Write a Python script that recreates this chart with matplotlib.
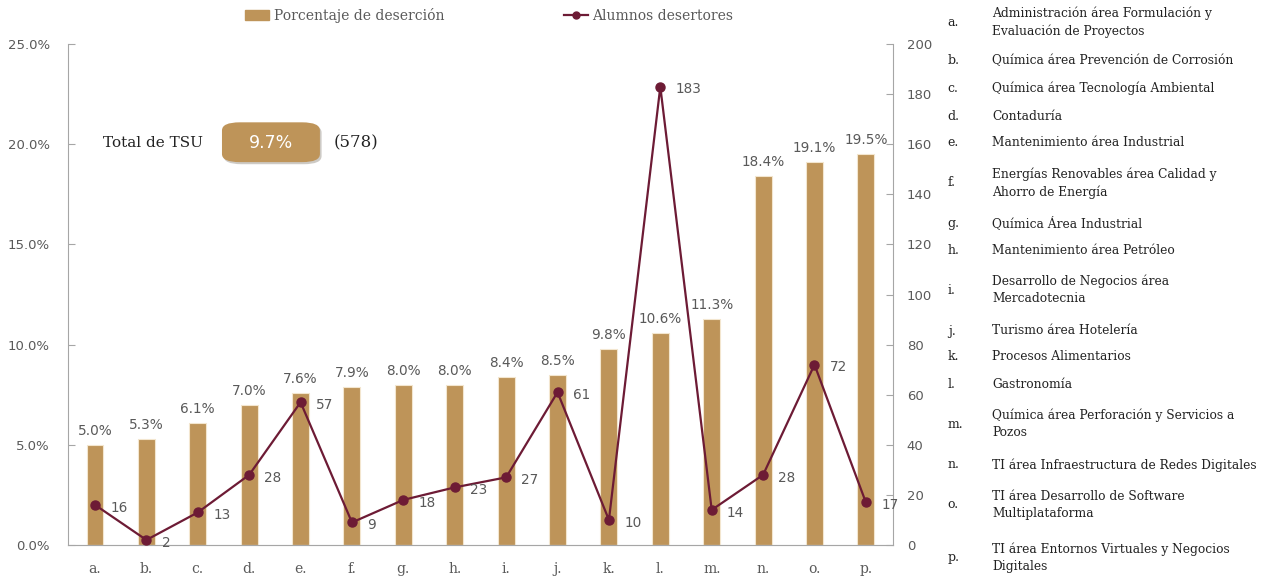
import matplotlib.pyplot as plt
from matplotlib.patches import FancyBboxPatch
from matplotlib.lines import Line2D
from matplotlib.patches import Patch
import matplotlib.patheffects as pe

# data
letras = ['a.', 'b.', 'c.', 'd.', 'e.', 'f.', 'g.', 'h.', 'i.', 'j.', 'k.', 'l.', 'm.', 'n.', 'o.', 'p.']
porcentaje = [5.0, 5.3, 6.1, 7.0, 7.6, 7.9, 8.0, 8.0, 8.4, 8.5, 9.8, 10.6, 11.3, 18.4, 19.1, 19.5]
alumnos = [16, 2, 13, 28, 57, 9, 18, 23, 27, 61, 10, 183, 14, 28, 72, 17]
carreras = [
    'Administración área Formulación y\nEvaluación de Proyectos',
    'Química área Prevención de Corrosión',
    'Química área Tecnología Ambiental',
    'Contaduría',
    'Mantenimiento área Industrial',
    'Energías Renovables área Calidad y\nAhorro de Energía',
    'Química Área Industrial',
    'Mantenimiento área Petróleo',
    'Desarrollo de Negocios área\nMercadotecnia',
    'Turismo área Hotelería',
    'Procesos Alimentarios',
    'Gastronomía',
    'Química área Perforación y Servicios a\nPozos',
    'TI área Infraestructura de Redes Digitales',
    'TI área Desarrollo de Software\nMultiplataforma',
    'TI área Entornos Virtuales y Negocios\nDigitales',
]
total_pct = '9.7%'
total_n = '(578)'

BAR = '#BE9459'
LINE = '#6D1B35'
GRIS = '#595959'
SERIF = 'DejaVu Serif'

fig = plt.figure(figsize=(12.67, 5.77), dpi=100)
ax = fig.add_axes([0.0537, 0.0555, 0.651, 0.868])
ax2 = ax.twinx()

x = list(range(len(letras)))
ax.bar(x, porcentaje, width=0.33, color=BAR, edgecolor='#F3E6CF', linewidth=0.8, zorder=2)
ax.set_ylim(0, 25)
ax.set_xlim(-0.525, 15.525)
ax.set_yticks([0, 5, 10, 15, 20, 25])
ax.set_yticklabels([f'{v:.1f}%' for v in [0, 5, 10, 15, 20, 25]])
ax.set_xticks(x)
ax.set_xticklabels(letras, family=SERIF, fontsize=10, color=GRIS)
ax.tick_params(axis='x', length=0, pad=12)
ax.tick_params(axis='y', direction='in', length=5, colors='#A6A6A6', labelcolor=GRIS,
               labelsize=9.5, pad=13)

for xi, p in zip(x, porcentaje):
    ax.annotate(f'{p:.1f}%', (xi, p), xytext=(0, 5), textcoords='offset points',
                ha='center', va='bottom', fontsize=9.8, color=GRIS, zorder=3)

ax2.plot(x, alumnos, color=LINE, linewidth=1.6, marker='o', markersize=6.5, zorder=4)
ax2.set_ylim(0, 200)
ax2.set_yticks(range(0, 201, 20))
ax2.tick_params(axis='y', direction='in', length=5, colors='#A6A6A6', labelcolor=GRIS,
                labelsize=9.5, pad=10)
for xi, a in zip(x, alumnos):
    ax2.annotate(str(a), (xi, a), xytext=(11, -2), textcoords='offset points',
                 ha='left', va='center', fontsize=9.8, color=GRIS, zorder=5)

for a in (ax, ax2):
    a.spines['top'].set_visible(False)
    for s in ('left', 'right', 'bottom'):
        a.spines[s].set_color('#A6A6A6')
ax2.spines['left'].set_visible(False)
ax.spines['right'].set_visible(False)
ax.spines['bottom'].set_color('#D9D9D9')

# legend on top
handles = [Patch(facecolor=BAR, edgecolor=BAR),
           Line2D([0], [0], color=LINE, marker='o', markersize=5, linewidth=1.6)]
fig.legend(handles, ['Porcentaje de deserción', 'Alumnos desertores'],
           loc='center', bbox_to_anchor=(0.386, 0.973), ncol=2, frameon=False,
           columnspacing=8.6, handlelength=1.75, handletextpad=0.3,
           prop={'family': SERIF, 'size': 10}, labelcolor=GRIS)

# total box
fig.text(0.081, 0.752, 'Total de TSU', family=SERIF, fontsize=11, color='#222222',
         ha='left', va='center')
box = FancyBboxPatch((0.1752, 0.719), 0.0773, 0.069, boxstyle='round,pad=0,rounding_size=0.014',
                     transform=fig.transFigure, facecolor=BAR, edgecolor='none',
                     path_effects=[pe.withSimplePatchShadow(offset=(1.2, -1.5), alpha=0.25)])
fig.patches.append(box)
fig.text(0.2139, 0.753, total_pct, fontsize=12.5, color='white', ha='center', va='center')
fig.text(0.263, 0.752, total_n, family=SERIF, fontsize=12, color='#222222',
         ha='left', va='center')

# category list on the right
y_px = [22, 61, 88, 116, 143, 183, 223, 250, 290, 331, 357, 384, 424, 465, 505, 558]
for letra, nombre, yp in zip(letras, carreras, y_px):
    yf = 1 - yp / 577
    fig.text(0.748, yf, letra, family=SERIF, fontsize=9, color='#222222', ha='left', va='center')
    fig.text(0.783, yf, nombre, family=SERIF, fontsize=8.8, color='#222222', ha='left',
             va='center', linespacing=1.4)

fig.savefig('out.png', dpi=100)
